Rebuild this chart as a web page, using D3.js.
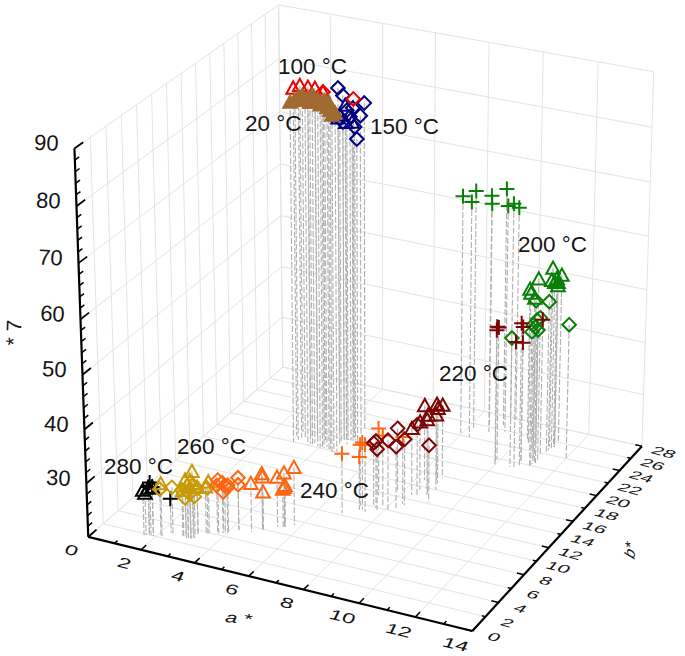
<!DOCTYPE html><html><head><meta charset="utf-8"><script src="https://cdn.jsdelivr.net/npm/d3@7"></script>
<style>body{margin:0;background:#fff}text{font-family:"Liberation Sans",Arial,sans-serif;fill:#151515}</style></head>
<body><svg id="s" width="685" height="656"></svg><script>
// data: [a*, b*, L*]
const T20=[[3.01,18.0,83.9],[3.09,18.4,84.0],[3.24,18.9,84.5],[3.57,18.0,84.7],[3.62,18.2,85.1],[3.71,18.5,85.3],[3.90,18.2,84.9],[4.02,18.1,85.2],[4.17,18.1,84.7],[4.23,18.3,85.0],[4.39,18.2,85.0],[4.55,17.8,84.0],[4.60,17.9,83.1],[3.12,18.8,84.2],[3.75,18.0,84.5],[4.11,18.1,84.3],[4.39,18.0,84.2],[4.69,18.0,83.5]];
const T100=[[2.90,18.9,85.5],[2.97,19.6,85.4],[3.35,19.3,85.7],[3.56,19.5,85.5],[3.94,19.2,85.4]];
const D100=[[4.77,20.4,83.8],[3.94,19.2,85.4]];
const D150=[[4.12,20.7,84.9],[4.40,20.3,84.2],[4.83,21.8,81.8],[4.88,21.0,80.3],[4.89,20.1,79.1],[5.12,19.5,77.7],[4.65,19.9,82.1],[4.60,19.5,80.3],[4.74,20.0,80.9],[4.70,20.6,81.9]];
const T150=[[4.59,19.9,83.0],[4.51,19.4,81.6],[4.76,19.3,80.6],[4.55,19.0,81.5],[4.87,19.8,80.3]];
const P200=[[7.94,24.3,65.2],[8.34,24.0,64.8],[8.18,25.4,65.3],[8.79,25.3,65.1],[8.58,26.3,62.4],[9.03,26.7,65.2],[9.29,25.8,63.2],[9.10,27.6,61.6],[9.26,27.8,60.8]];
const T200=[[11.14,25.1,54.2],[10.60,25.2,51.5],[10.24,25.4,49.0],[10.43,24.7,49.2],[10.64,24.4,48.8],[11.30,25.9,52.2],[11.27,25.2,52.3],[11.30,24.7,52.1],[11.25,25.5,51.2],[11.21,24.6,52.5],[11.31,25.2,51.0]];
const D200=[[10.97,23.1,50.0],[11.22,24.2,48.9],[10.52,21.2,44.6],[11.99,24.1,45.5],[11.13,22.6,47.1],[11.10,22.1,46.7],[11.10,21.9,45.6],[11.19,22.5,45.4],[11.13,22.3,46.1],[11.16,23.0,47.1]];
const P220=[[9.95,21.3,46.0],[9.92,21.7,45.4],[9.98,21.1,45.6],[10.76,21.7,47.1],[10.71,22.2,45.8],[11.10,23.7,45.9],[10.65,21.3,43.9],[10.71,22.2,42.8]];
const T220=[[8.30,16.9,34.3],[8.66,17.3,34.5],[8.78,17.7,34.0],[8.79,16.9,34.3],[8.94,16.0,34.3],[8.85,15.1,35.2],[8.82,15.1,34.3],[8.46,15.5,33.0],[8.37,14.6,32.7]];
const D220=[[7.79,14.8,31.8],[7.69,11.9,32.7],[7.78,11.7,31.5],[8.11,12.0,33.2],[8.29,12.5,31.6],[8.46,13.1,32.5],[8.52,14.8,33.3],[9.10,14.2,30.8],[7.53,12.2,31.8]];
const P240=[[7.37,13.6,32.7],[7.33,11.3,32.7],[7.48,11.1,32.7],[7.15,11.7,31.6],[6.82,10.3,31.2],[7.24,11.2,30.0],[7.87,12.2,33.6],[8.37,13.2,32.7]];
const T240=[[5.77,7.4,30.9],[5.53,6.9,30.2],[4.91,6.1,30.3],[4.98,5.9,30.0],[5.32,6.7,29.4],[4.71,5.3,29.2],[5.00,5.9,27.2],[5.56,6.9,27.9],[5.53,6.9,27.5],[5.53,6.7,27.4]];
const D240=[[4.26,5.2,29.8],[4.26,5.2,28.5],[3.77,4.2,30.0],[3.88,4.4,29.4],[3.97,4.4,29.0],[4.03,4.5,28.5],[3.91,4.4,27.7],[3.70,4.3,28.8],[4.06,4.5,29.0]];
const T260=[[3.17,2.9,32.5],[2.96,2.7,30.9],[3.11,2.8,30.9],[3.01,2.8,29.9],[3.19,2.9,30.3],[3.21,3.4,29.0],[3.47,4.0,29.6],[3.41,3.8,28.8],[2.18,2.2,29.9],[2.89,2.6,29.0],[3.10,2.8,29.6]];
const D260=[[2.14,2.2,28.8],[2.40,2.9,28.6],[2.95,2.7,27.5],[2.86,2.6,29.0],[3.10,2.8,28.4],[3.21,3.0,27.7],[3.01,2.8,28.6],[3.21,3.4,28.8],[3.50,3.7,28.8]];
const T280=[[1.61,1.8,28.5],[1.76,2.0,28.8],[1.91,2.0,29.2],[1.66,1.9,27.9]];
const P280=[[1.82,2.0,29.9],[1.91,2.0,29.2],[2.33,2.9,26.4],[1.76,2.0,29.0]];
const aTicks=d3.range(0,15), aLabels=d3.range(0,15,2);
const bTicks=d3.range(0,29,2);
const zTicks=d3.range(20,91,2), zLabels=[30,40,50,60,70,80,90];
const tempLabels=["100 °C","20 °C","150 °C","200 °C","220 °C","240 °C","260 °C","280 °C"];
const tempAnchors=[[278,74],[245,131],[370,134],[518,252],[439,381],[300,498],[177,454],[104,474]];

const RED="#f00000",NAVY="#000080",GREEN="#088008",DRED="#7d0505",ORANGE="#ff6610",GOLD="#c99a05",BLACK="#000",BROWN="#a16a32";
const series=[[T280,"t",BLACK],[P280,"p",BLACK],[T260,"t",GOLD],[D260,"d",GOLD],[T240,"t",ORANGE],[D240,"d",ORANGE],[P240,"p",ORANGE],
[T200,"t",GREEN],[D200,"d",GREEN],[P200,"p",GREEN],[P220,"p",DRED],[T220,"t",DRED],[D220,"d",DRED],[D150,"d",NAVY],[T150,"t",NAVY],[T100,"t",RED],[D100,"d",RED],[T20,"t",BROWN,true]];

// scales: value to unit cube, unit cube to the picture through a projective camera fitted to the box corners
const sa=d3.scaleLinear().domain([0,14]).range([0,1]), sb=d3.scaleLinear().domain([0,28]).range([0,1]), sz=d3.scaleLinear().domain([20,90]).range([0,1]);
const boxFit=[[0,0,20,88.5,537],[14,0,20,472,631],[0,28,20,283,367],[14,28,20,642,446],[0,0,90,75,148],[0,28,90,278,5],[14,28,90,654,72],[0,0,50,82,375],[14,28,80,652,127]];
function solve(A,b){const n=b.length;A=A.map((r,i)=>[...r,b[i]]);for(let i=0;i<n;i++){let p=i;for(let r=i+1;r<n;r++)if(Math.abs(A[r][i])>Math.abs(A[p][i]))p=r;[A[i],A[p]]=[A[p],A[i]];for(let r=0;r<n;r++)if(r!=i){const f=A[r][i]/A[i][i];for(let c=i;c<=n;c++)A[r][c]-=f*A[i][c];}}return A.map((r,i)=>r[n]/r[i]);}
const rows=[],rhs=[];
boxFit.forEach(([a,b,z,x,y])=>{const u=sa(a),v=sb(b),w=sz(z);rows.push([u,v,w,1,0,0,0,0,-x*u,-x*v,-x*w]);rhs.push(x);rows.push([0,0,0,0,u,v,w,1,-y*u,-y*v,-y*w]);rhs.push(y);});
const idx=d3.range(11);
const P=solve(idx.map(i=>idx.map(j=>d3.sum(rows,r=>r[i]*r[j]))),idx.map(i=>d3.sum(rows,(r,k)=>r[i]*rhs[k])));
const pr=(a,b,z)=>{const u=sa(a),v=sb(b),w=sz(z),d=P[8]*u+P[9]*v+P[10]*w+1;return [(P[0]*u+P[1]*v+P[2]*w+P[3])/d,(P[4]*u+P[5]*v+P[6]*w+P[7])/d];};

const svg=d3.select("#s");
const line3=(g,p,q,stroke,w,dash)=>{const A=pr(...p),B=pr(...q);const l=g.append("line").attr("x1",A[0]).attr("y1",A[1]).attr("x2",B[0]).attr("y2",B[1]).attr("stroke",stroke).attr("stroke-width",w);if(dash)l.attr("stroke-dasharray",dash);return l;};

// grids
const grid=svg.append("g");const GC="#e4e4e4";
const aG=d3.range(0,15,2),bG=d3.range(0,29,2),zG=d3.range(20,91,10);
aG.forEach(a=>{line3(grid,[a,0,20],[a,28,20],GC,1);line3(grid,[a,28,20],[a,28,90],GC,1);});
bG.forEach(b=>{line3(grid,[0,b,20],[14,b,20],GC,1);line3(grid,[0,b,20],[0,b,90],GC,1);});
zG.forEach(z=>{line3(grid,[0,0,z],[0,28,z],GC,1);line3(grid,[0,28,z],[14,28,z],GC,1);});

// drop lines
const drops=svg.append("g");
series.forEach(([d])=>d.forEach(([a,b,z])=>line3(drops,[a,b,z],[a,b,20],"#b0b0b0",1.1,"6 2")));

// axes
const ax=svg.append("g");
line3(ax,[0,0,20],[0,0,90],"#000",2.2);line3(ax,[0,0,20],[14,0,20],"#000",2.2);line3(ax,[14,0,20],[14,28,20],"#000",2.2);
zTicks.forEach(z=>line3(ax,[0,0,z],[0,z%10==0?1.1:0.55,z],"#000",z%10==0?1.8:1.5));
aTicks.forEach(a=>line3(ax,[a,0,20],[a,a%2==0?0.7:0.4,20],"#000",1.5));
bTicks.forEach(b=>line3(ax,[14,b,20],[b%4==0?13.75:13.87,b,20],"#000",1.5));

const lab=svg.append("g");
zLabels.forEach(z=>{const [x,y]=pr(0,0,z);lab.append("text").attr("text-anchor","middle").attr("dy",".36em").attr("font-size",22).attr("transform",`translate(${x-28},${y-6}) rotate(3)`).text(z);});
aLabels.forEach(a=>{const [x,y]=pr(a,0,20);lab.append("text").attr("text-anchor","middle").attr("dy",".36em").attr("font-size",18).attr("font-style","italic").attr("transform",`matrix(1.25,.3,-.1,.8,${x-17},${y+13})`).text(a);});
bTicks.forEach(b=>{const [x,y]=pr(14,b,20);lab.append("text").attr("text-anchor","middle").attr("dy",".36em").attr("font-size",18).attr("transform",`matrix(1.12,.3,-.45,.55,${x+22},${y+6})`).text(b);});
lab.append("text").attr("text-anchor","middle").attr("font-size",18).attr("font-style","italic").attr("transform","matrix(1.2,.1,-.1,.8,238,623)").text("a *");
lab.append("text").attr("text-anchor","middle").attr("font-size",18).attr("font-style","italic").attr("transform","matrix(.05,-.9,.8,.3,635,552)").text("b*");
lab.append("text").attr("text-anchor","middle").attr("font-size",21).attr("transform","translate(21,333) rotate(-88)").text("* 7");

// markers
const R=6.8;
const shapes={t:{draw(c){c.moveTo(-R,R*0.85);c.lineTo(0,-R*0.95);c.lineTo(R,R*0.85);c.closePath();}},
 d:{draw(c){c.moveTo(0,-R);c.lineTo(R,0);c.lineTo(0,R);c.lineTo(-R,0);c.closePath();}},
 p:{draw(c){c.moveTo(-7.5,0);c.lineTo(7.5,0);c.moveTo(0,-7.5);c.lineTo(0,7.5);}}};
const marks=svg.append("g");
series.forEach(([d,s,col,fill])=>{marks.selectAll(null).data(d).join("path").attr("d",d3.symbol().type(shapes[s])).attr("transform",p=>{const [x,y]=pr(...p);return `translate(${x},${y})`;}).attr("fill",fill?col:"none").attr("stroke",col).attr("stroke-width",2);});

// temperature labels
tempLabels.forEach((t,i)=>svg.append("text").attr("x",tempAnchors[i][0]).attr("y",tempAnchors[i][1]).attr("font-size",22.5).text(t));
</script></body></html>
